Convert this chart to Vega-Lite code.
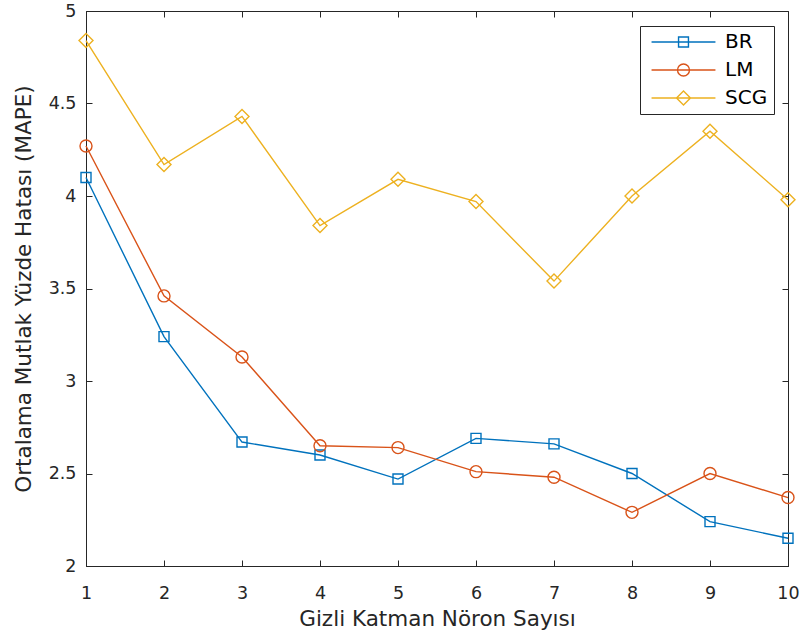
{
  "$schema": "https://vega.github.io/schema/vega-lite/v6.json",
  "width": 702,
  "height": 555,
  "autosize": {"type": "none"},
  "padding": {"left": 86, "top": 11, "right": 17, "bottom": 78},
  "background": "white",
  "config": {
    "font": "DejaVu Sans",
    "view": {"stroke": "#262626", "strokeWidth": 1},
    "axis": {
      "grid": false,
      "domainColor": "#262626",
      "tickColor": "#262626",
      "labelColor": "#262626",
      "titleColor": "#262626",
      "labelFont": "DejaVu Sans",
      "titleFont": "DejaVu Sans",
      "titleFontWeight": "normal",
      "tickSize": -6,
      "labelFontSize": 17.5,
      "titleFontSize": 21.5,
      "labelFlush": false,
      "labelOverlap": false
    }
  },
  "data": {
    "values": [
      {"n": 1, "algo": "BR", "v": 4.10},
      {"n": 2, "algo": "BR", "v": 3.24},
      {"n": 3, "algo": "BR", "v": 2.67},
      {"n": 4, "algo": "BR", "v": 2.60},
      {"n": 5, "algo": "BR", "v": 2.47},
      {"n": 6, "algo": "BR", "v": 2.69},
      {"n": 7, "algo": "BR", "v": 2.66},
      {"n": 8, "algo": "BR", "v": 2.50},
      {"n": 9, "algo": "BR", "v": 2.24},
      {"n": 10, "algo": "BR", "v": 2.15},
      {"n": 1, "algo": "LM", "v": 4.27},
      {"n": 2, "algo": "LM", "v": 3.46},
      {"n": 3, "algo": "LM", "v": 3.13},
      {"n": 4, "algo": "LM", "v": 2.65},
      {"n": 5, "algo": "LM", "v": 2.64},
      {"n": 6, "algo": "LM", "v": 2.51},
      {"n": 7, "algo": "LM", "v": 2.48},
      {"n": 8, "algo": "LM", "v": 2.29},
      {"n": 9, "algo": "LM", "v": 2.50},
      {"n": 10, "algo": "LM", "v": 2.37},
      {"n": 1, "algo": "SCG", "v": 4.84},
      {"n": 2, "algo": "SCG", "v": 4.17},
      {"n": 3, "algo": "SCG", "v": 4.43},
      {"n": 4, "algo": "SCG", "v": 3.84},
      {"n": 5, "algo": "SCG", "v": 4.09},
      {"n": 6, "algo": "SCG", "v": 3.97},
      {"n": 7, "algo": "SCG", "v": 3.54},
      {"n": 8, "algo": "SCG", "v": 4.00},
      {"n": 9, "algo": "SCG", "v": 4.35},
      {"n": 10, "algo": "SCG", "v": 3.98}
    ]
  },
  "resolve": {"axis": {"x": "independent", "y": "independent"}},
  "layer": [
    {
      "transform": [{"filter": "datum.algo === 'BR'"}],
      "mark": {"type": "line", "color": "#0072BD", "strokeWidth": 1.4},
      "encoding": {
        "x": {"field": "n", "type": "quantitative", "scale": {"domain": [1, 10], "nice": false, "zero": false},
          "axis": {"orient": "bottom", "values": [1, 2, 3, 4, 5, 6, 7, 8, 9, 10], "format": "d", "title": "Gizli Katman Nöron Sayısı", "labelPadding": 24, "titlePadding": 7}},
        "y": {"field": "v", "type": "quantitative", "scale": {"domain": [2, 5], "nice": false, "zero": false},
          "axis": {"orient": "left", "values": [2, 2.5, 3, 3.5, 4, 4.5, 5], "format": "~g", "title": "Ortalama Mutlak Yüzde Hatası (MAPE)", "labelPadding": 16, "titlePadding": 13}}
      }
    },
    {
      "transform": [{"filter": "datum.algo === 'BR'"}],
      "mark": {"type": "point", "shape": "square", "size": 100, "filled": false, "color": "#0072BD", "strokeWidth": 1.4, "opacity": 1},
      "encoding": {
        "x": {"field": "n", "type": "quantitative", "scale": {"domain": [1, 10], "nice": false, "zero": false},
          "axis": {"orient": "top", "values": [1, 2, 3, 4, 5, 6, 7, 8, 9, 10], "labels": false, "title": null, "domain": false}},
        "y": {"field": "v", "type": "quantitative", "scale": {"domain": [2, 5], "nice": false, "zero": false},
          "axis": {"orient": "right", "values": [2, 2.5, 3, 3.5, 4, 4.5, 5], "labels": false, "title": null, "domain": false}}
      }
    },
    {
      "transform": [{"filter": "datum.algo === 'LM'"}],
      "mark": {"type": "line", "color": "#D95319", "strokeWidth": 1.4},
      "encoding": {
        "x": {"field": "n", "type": "quantitative", "scale": {"domain": [1, 10], "nice": false, "zero": false}, "axis": null},
        "y": {"field": "v", "type": "quantitative", "scale": {"domain": [2, 5], "nice": false, "zero": false}, "axis": null}
      }
    },
    {
      "transform": [{"filter": "datum.algo === 'LM'"}],
      "mark": {"type": "point", "shape": "circle", "size": 144, "filled": false, "color": "#D95319", "strokeWidth": 1.4, "opacity": 1},
      "encoding": {
        "x": {"field": "n", "type": "quantitative", "scale": {"domain": [1, 10], "nice": false, "zero": false}, "axis": null},
        "y": {"field": "v", "type": "quantitative", "scale": {"domain": [2, 5], "nice": false, "zero": false}, "axis": null}
      }
    },
    {
      "transform": [{"filter": "datum.algo === 'SCG'"}],
      "mark": {"type": "line", "color": "#EDB120", "strokeWidth": 1.4},
      "encoding": {
        "x": {"field": "n", "type": "quantitative", "scale": {"domain": [1, 10], "nice": false, "zero": false}, "axis": null},
        "y": {"field": "v", "type": "quantitative", "scale": {"domain": [2, 5], "nice": false, "zero": false}, "axis": null}
      }
    },
    {
      "transform": [{"filter": "datum.algo === 'SCG'"}],
      "mark": {"type": "point", "shape": "diamond", "size": 196, "filled": false, "color": "#EDB120", "strokeWidth": 1.4, "opacity": 1},
      "encoding": {
        "x": {"field": "n", "type": "quantitative", "scale": {"domain": [1, 10], "nice": false, "zero": false}, "axis": null},
        "y": {"field": "v", "type": "quantitative", "scale": {"domain": [2, 5], "nice": false, "zero": false}, "axis": null}
      }
    },
    {
      "description": "Invisible points that only carry the legend: each symbol is a line segment with its marker",
      "mark": {"type": "point", "filled": false, "opacity": 0, "strokeWidth": 1.4},
      "encoding": {
        "x": {"field": "n", "type": "quantitative", "scale": {"domain": [1, 10], "nice": false, "zero": false}, "axis": null},
        "y": {"field": "v", "type": "quantitative", "scale": {"domain": [2, 5], "nice": false, "zero": false}, "axis": null},
        "color": {"field": "algo", "type": "nominal",
          "scale": {"domain": ["BR", "LM", "SCG"], "range": ["#0072BD", "#D95319", "#EDB120"]},
          "legend": {"orient": "none", "legendX": 554, "legendY": 15, "title": null, "strokeColor": "#262626", "fillColor": "white", "padding": 6, "labelFont": "DejaVu Sans", "labelFontSize": 20, "labelColor": "#000000", "symbolSize": 81, "symbolStrokeWidth": 1.4, "symbolOffset": 27.5, "labelOffset": 31.5, "rowPadding": 8, "symbolOpacity": 1, "symbolFillColor": "transparent"}},
        "shape": {"field": "algo", "type": "nominal",
          "scale": {"domain": ["BR", "LM", "SCG"], "range": [
            "M-7.1,0H7.1M-1.1,-1.1H1.1V1.1H-1.1Z",
            "M-7.1,0H7.1M1.33,0A1.33,1.33,0,1,1,-1.33,0A1.33,1.33,0,1,1,1.33,0Z",
            "M-7.1,0H7.1M-1.55,0L0,-1.55L1.55,0L0,1.55Z"
          ]},
          "legend": {"orient": "none", "legendX": 554, "legendY": 15, "title": null, "strokeColor": "#262626", "fillColor": "white", "padding": 6, "labelFont": "DejaVu Sans", "labelFontSize": 20, "labelColor": "#000000", "symbolSize": 81, "symbolStrokeWidth": 1.4, "symbolOffset": 27.5, "labelOffset": 31.5, "rowPadding": 8, "symbolOpacity": 1, "symbolFillColor": "transparent"}}
      }
    }
  ]
}
